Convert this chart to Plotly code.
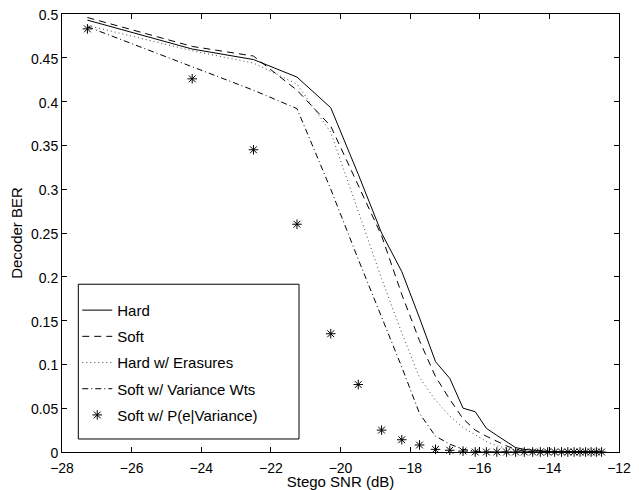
"""Decoder BER versus stego SNR for the five decoding schemes."""

import plotly.graph_objects as go

# stego SNR (dB) at each measured point
snr_db = [-27.27, -24.26, -22.50, -21.25, -20.28, -19.49, -18.82, -18.24, -17.73, -17.27,
          -16.86, -16.48, -16.13, -15.81, -15.51, -15.23, -14.97, -14.72, -14.48, -14.26,
          -14.05, -13.85, -13.65, -13.47, -13.29, -13.12, -12.96, -12.80, -12.65, -12.50]

ber_hard = [0.493, 0.460, 0.448, 0.428, 0.393, 0.317, 0.250, 0.206, 0.153, 0.103,
            0.084, 0.050, 0.046, 0.027, 0.019, 0.012, 0.005, 0.003, 0.002, 0.001,
            0, 0, 0, 0, 0, 0, 0, 0, 0, 0]
ber_soft = [0.496, 0.463, 0.452, 0.413, 0.372, 0.304, 0.247, 0.180, 0.127, 0.086,
            0.060, 0.038, 0.025, 0.018, 0.012, 0.007, 0.003, 0.001, 0, 0,
            0, 0, 0, 0, 0, 0, 0, 0, 0, 0]
ber_hard_erasures = [0.487, 0.458, 0.444, 0.420, 0.365, 0.274, 0.198, 0.136, 0.085, 0.059,
                     0.041, 0.028, 0.020, 0.012, 0.007, 0.004, 0.002, 0.001, 0, 0,
                     0, 0, 0, 0, 0, 0, 0, 0, 0, 0]
ber_soft_var_wts = [0.4855, 0.440, 0.413, 0.392, 0.300, 0.220, 0.155, 0.097, 0.044, 0.018,
                    0.009, 0.003, 0.001, 0, 0, 0, 0, 0, 0, 0,
                    0, 0, 0, 0, 0, 0, 0, 0, 0, 0]
ber_soft_pe_var = [0.483, 0.426, 0.345, 0.260, 0.135, 0.077, 0.025, 0.014, 0.008, 0.003,
                   0.002, 0.001, 0, 0, 0, 0, 0, 0, 0, 0,
                   0, 0, 0, 0, 0, 0, 0, 0, 0, 0]

x_ticks = [-28, -26, -24, -22, -20, -18, -16, -14, -12]
y_ticks = [0, 0.05, 0.1, 0.15, 0.2, 0.25, 0.3, 0.35, 0.4, 0.45, 0.5]

FONT = "Liberation Sans, Arial, Helvetica, sans-serif"

line_series = [
    ("Hard", ber_hard, "solid", "black"),
    ("Soft", ber_soft, "7px,5px", "black"),
    ("Hard w/ Erasures", ber_hard_erasures, "1px,3px", "#444"),
    ("Soft w/ Variance Wts", ber_soft_var_wts, "6px,3px,1px,3px", "black"),
]

fig = go.Figure()
for name, ber, dash, color in line_series:
    fig.add_trace(go.Scatter(
        x=snr_db, y=ber, mode="lines", name=name, legendgroup=name,
        line=dict(color=color, width=1, dash=dash),
    ))

fig.add_trace(go.Scatter(
    x=snr_db, y=ber_soft_pe_var, mode="markers", name="Soft w/ P(e|Variance)",
    legendgroup="pe", cliponaxis=False,
    marker=dict(symbol="asterisk-open", size=8, color="black",
                line=dict(color="black", width=1)),
))

axis_style = dict(
    showline=True, linecolor="black", linewidth=1, mirror="ticks",
    ticks="inside", ticklen=5, tickcolor="black", tickwidth=1,
    showgrid=False, zeroline=False, automargin=False, ticklabeloverflow="allow",
    tickfont=dict(family=FONT, size=14, color="black"),
)

fig.update_xaxes(range=[-28, -12], tickvals=x_ticks, ticklabelstandoff=3,
                 title=dict(text="Stego SNR (dB)", standoff=3,
                            font=dict(family=FONT, size=15, color="black")),
                 **axis_style)
fig.update_yaxes(range=[0, 0.5], tickvals=y_ticks, ticklabelshift=1,
                 title=dict(text="Decoder BER", standoff=4,
                            font=dict(family=FONT, size=15, color="black")),
                 **axis_style)

# legend frame
fig.add_shape(type="rect", xref="paper", yref="paper",
              x0=0.0293, x1=0.4255, y0=0.0297, y1=0.383,
              line=dict(color="black", width=1), fillcolor="white", layer="below")

fig.update_layout(
    width=639, height=490,
    margin=dict(l=62, r=20, t=14, b=38),
    plot_bgcolor="white", paper_bgcolor="white",
    font=dict(family=FONT, size=15, color="black"),
    showlegend=True,
    legend=dict(x=0.0274, y=0.361, xanchor="left", yanchor="top",
                bgcolor="rgba(0,0,0,0)", borderwidth=0,
                traceorder="grouped", tracegroupgap=3.7,
                font=dict(family=FONT, size=15, color="black")),
)

# drop the browser's default body margin so the figure sits at the page corner
fig.write_html("out.html", config={"displayModeBar": False},
               post_script="document.body.style.margin = '0';")
